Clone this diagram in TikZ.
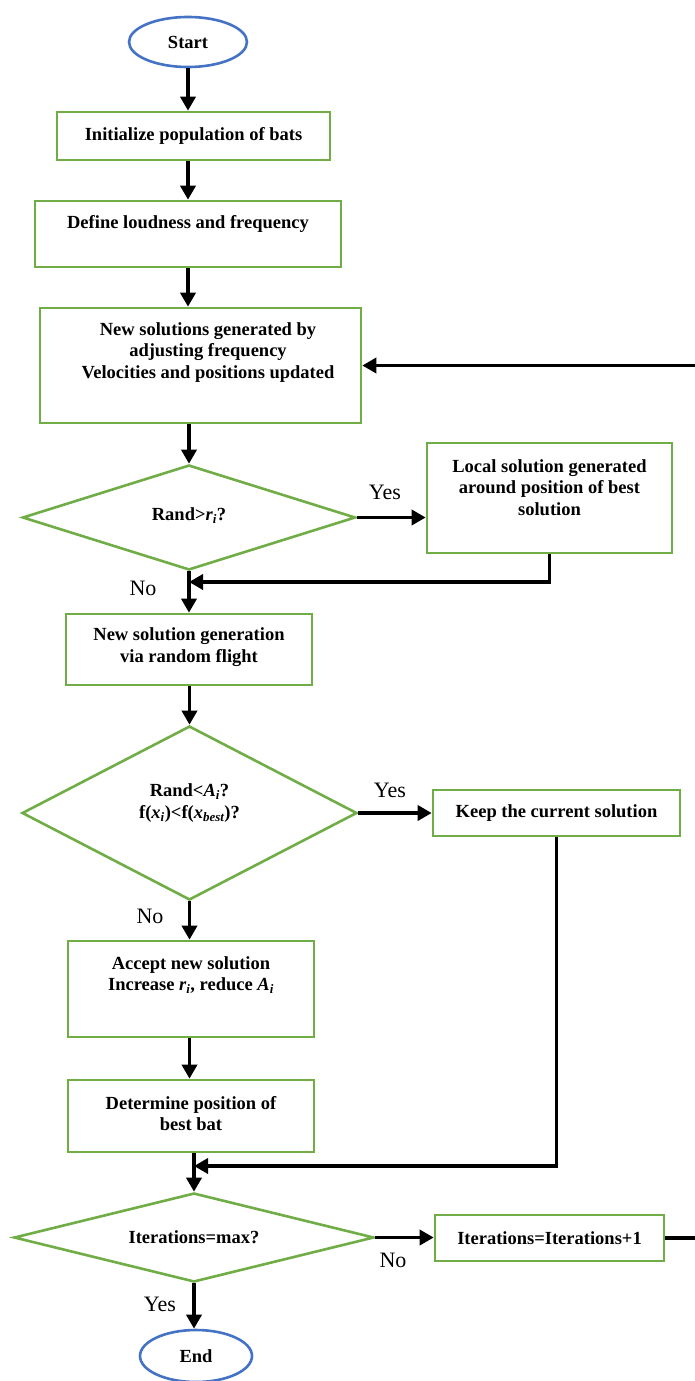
\documentclass[tikz,border=0pt]{standalone}
\usepackage{amsmath}
\usepackage{fontspec}
\setmainfont{Liberation Serif}
\usetikzlibrary{shapes.geometric,arrows.meta}
\definecolor{boxgreen}{HTML}{70AD47}
\definecolor{ovalblue}{HTML}{4472C4}
% italic variable with a lowered italic index, set in the current text font
\newcommand{\ivar}[2]{$\textit{#1}_{\textit{#2}}$}
\begin{document}
\begin{tikzpicture}[x=1pt,y=-1pt,
  box/.style={draw=boxgreen,line width=2.6pt,rectangle,inner sep=0pt},
  decision/.style={draw=boxgreen,line width=2.6pt,diamond,inner sep=0pt},
  terminal/.style={draw=ovalblue,line width=2.6pt,ellipse,inner sep=0pt,
    font=\bfseries\fontsize{18.5}{21.5}\selectfont},
  boxtext/.style={font=\bfseries\fontsize{18.5}{21.5}\selectfont,align=center,inner sep=0pt},
  answer/.style={font=\fontsize{22}{24}\selectfont,inner sep=0pt},
  arr/.style={line width=3.8pt,-{Triangle[length=14pt,width=15pt]}}]
\useasboundingbox (0,0) rectangle (695,1381);

% terminals
\node[terminal,minimum width=118,minimum height=50] (start) at (188,42) {Start};
\node[terminal,minimum width=112,minimum height=52] (end) at (196,1356) {End};

% process boxes
\node[box,minimum width=273,minimum height=48] (init) at (193.5,136) {};
\node[boxtext] (tinit) at (193.5,136) {Initialize population of bats};

\node[box,minimum width=306,minimum height=66] (define) at (188,234) {};
\node[boxtext] (tdefine) at (188,224) {Define loudness and frequency};

\node[box,minimum width=321,minimum height=115] (newsol) at (200.5,365.5) {};
\node[boxtext] (tnewsol) at (208,352.5) {New solutions generated by\\adjusting frequency\\Velocities and positions updated};

\node[box,minimum width=245,minimum height=110] (local) at (549.5,498) {};
\node[boxtext] (tlocal) at (549.5,487.5) {Local solution generated\\around position of best\\solution};

\node[box,minimum width=246,minimum height=71] (gen) at (189,649.5) {};
\node[boxtext] (tgen) at (189,647) {New solution generation\\via random flight};

\node[box,minimum width=247,minimum height=46] (keep) at (556.5,813) {};
\node[boxtext] (tkeep) at (556.5,813) {Keep the current solution};

\node[box,minimum width=246,minimum height=96] (accept) at (191,989) {};
\node[boxtext] (taccept) at (191,975) {Accept new solution\\Increase \ivar{r}{i}, reduce \ivar{A}{i}};

\node[box,minimum width=246,minimum height=72] (det) at (191,1116) {};
\node[boxtext] (tdet) at (191,1113.5) {Determine position of\\best bat};

\node[box,minimum width=229,minimum height=46] (iter) at (549.5,1238) {};
\node[boxtext] (titer) at (549.5,1238) {Iterations=Iterations+1};

% decisions
\node[decision,minimum width=333,minimum height=105] (d1) at (189,517.5) {};
\node[boxtext] (td1) at (189,516) {Rand>\ivar{r}{i}?};
\node[decision,minimum width=335,minimum height=174] (d2) at (189.5,813) {};
\node[boxtext] (td2) at (189.5,803) {Rand<\ivar{A}{i}?\\f(\ivar{x}{i})<f(\ivar{x}{best})?};
\node[decision,minimum width=360,minimum height=89] (d3) at (194,1237.5) {};
\node[boxtext] (td3) at (194,1237) {Iterations=max?};

% merge points on the main column
\coordinate (m1) at (189,582);
\coordinate (m2) at (194,1166);

% main flow
\draw[arr] (start) -- (start |- init.north);
\draw[arr] (init.south -| start) -- (start |- define.north);
\draw[arr] (define.south -| start) -- (start |- newsol.north);
\draw[arr] (newsol.south -| d1.north) -- (d1.north);
\draw[arr] (d1.south) -- (d1.south |- gen.north);
\draw[arr] (gen.south -| d2.north) -- (d2.north);
\draw[arr] (d2.south) -- (d2.south |- accept.north);
\draw[arr] (accept.south -| d2.south) -- (d2.south |- det.north);
\draw[arr] (det.south -| d3.north) -- (d3.north);
\draw[arr] (d3.south) -- (d3.south |- end.north);

% branches
\draw[arr] (d1.east) -- (d1.east -| local.west);
\draw[arr] (local.south) |- (m1);
\draw[arr] (d2.east) -- (d2.east -| keep.west);
\draw[arr] (keep.south) |- (m2);
\draw[arr] (d3.east) -- (d3.east -| iter.west);

% loop back to the update step
\coordinate (loopcorner) at (699,1238);
\draw[arr] (iter.east) -- (loopcorner) |- (newsol.east);

% branch labels
\node[answer] (y1) at (385,492) {Yes};
\node[answer] (n1) at (143,588) {No};
\node[answer] (y2) at (390,790) {Yes};
\node[answer] (n2) at (150,916) {No};
\node[answer] (n3) at (393,1260) {No};
\node[answer] (y3) at (160,1304) {Yes};
\end{tikzpicture}
\end{document}
